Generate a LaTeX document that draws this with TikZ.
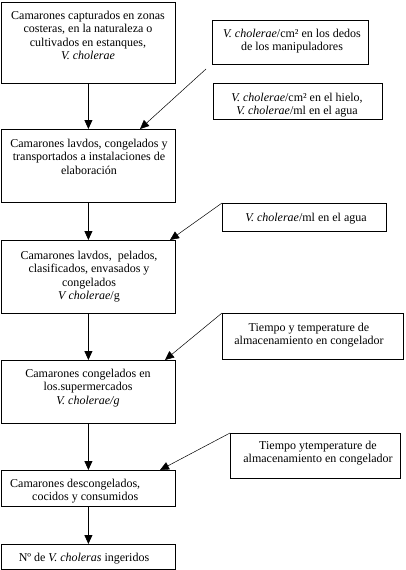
\documentclass[tikz,border=0pt]{standalone}
\usepackage{fontspec}
\setmainfont{Liberation Serif}
\usetikzlibrary{arrows.meta}
\begin{document}
\begin{tikzpicture}[x=1pt,y=-1pt,
  box/.style={draw,line width=0.8pt,anchor=north west,inner sep=0pt},
  txt/.style={align=center,inner sep=0pt,anchor=north,font=\rmfamily\fontsize{12}{13.4}\selectfont},
  arr/.style={-{Triangle[length=9pt,width=8pt]},line width=0.8pt},
  darr/.style={-{Triangle[length=9pt,width=8pt]},line width=0.5pt}]
\useasboundingbox (0,0) rectangle (406,570);
% left column boxes
\node[box,minimum width=174pt,minimum height=81pt] (b1) at (1,2) {};
\node[box,minimum width=174pt,minimum height=73pt] (b2) at (1,129) {};
\node[box,minimum width=174pt,minimum height=73pt] (b3) at (1,240) {};
\node[box,minimum width=174pt,minimum height=63pt] (b4) at (1,360) {};
\node[box,minimum width=174pt,minimum height=36pt] (b5) at (1,470) {};
\node[box,minimum width=174pt,minimum height=25pt] (b6) at (1,544) {};
% right column boxes
\node[box,minimum width=156pt,minimum height=44pt] (rA) at (212,20) {};
\node[box,minimum width=169pt,minimum height=36pt] (rB) at (213,83) {};
\node[box,minimum width=164pt,minimum height=28pt] (rC) at (222,203) {};
\node[box,minimum width=181pt,minimum height=46pt] (rD) at (222,313) {};
\node[box,minimum width=170pt,minimum height=45pt] (rE) at (230,433) {};
% texts
\node[txt] (t1) at (88,11) {Camarones capturados en zonas\\costeras, en la naturaleza o\\cultivados en estanques,\\\textit{V. cholerae}};
\node[txt] (t2) at (89,139) {Camarones lavdos, congelados y\\transportados a instalaciones de\\elaboración};
\node[txt] (t3) at (89,251) {Camarones lavdos,\ \ pelados,\\clasificados, envasados y\\congelados\\\textit{V cholerae}/g};
\node[txt] (t4) at (88,369) {Camarones congelados en\\los.supermercados\\\textit{V. cholerae/g}};
\node[txt,align=left,anchor=north west] (t5) at (10,479) {Camarones descongelados,\\\hspace*{22pt}cocidos y consumidos};
\node[txt] (t6) at (84,553) {Nº de \textit{V. choleras} ingeridos};
\node[txt] (tA) at (292,29) {\textit{V. cholerae}/cm² en los dedos\\de los manipuladores};
\node[txt] (tB) at (297,93) {\textit{V. cholerae}/cm² en el hielo,\\\textit{V. cholerae}/ml en el agua};
\node[txt] (tC) at (306,213) {\textit{V. cholerae}/ml en el agua};
\node[txt] (tD) at (309,323) {Tiempo y temperature de\\almacenamiento en congelador};
\node[txt] (tE) at (318,441) {Tiempo ytemperature de\\almacenamiento en congelador};
% vertical arrows
\draw[arr] (b1.south) -- (b2.north);
\draw[arr] (b2.south) -- (b3.north);
\draw[arr] (b3.south) -- (b4.north);
\draw[arr] (b4.south) -- (b5.north);
\draw[arr] (b5.south) -- (b6.north);
% diagonal arrows
\coordinate (s1) at (206,69);
\coordinate (x1) at (140,0);
\coordinate (x2) at (170,0);
\coordinate (x3) at (165,0);
\coordinate (x4) at (160,0);
\draw[darr] (s1) -- (b2.north -| x1);
\draw[darr] (rC.north west) -- (b3.north -| x2);
\draw[darr] (rD.north west) -- (b4.north -| x3);
\draw[darr] (rE.north west) -- (b5.north -| x4);
\end{tikzpicture}
\end{document}
